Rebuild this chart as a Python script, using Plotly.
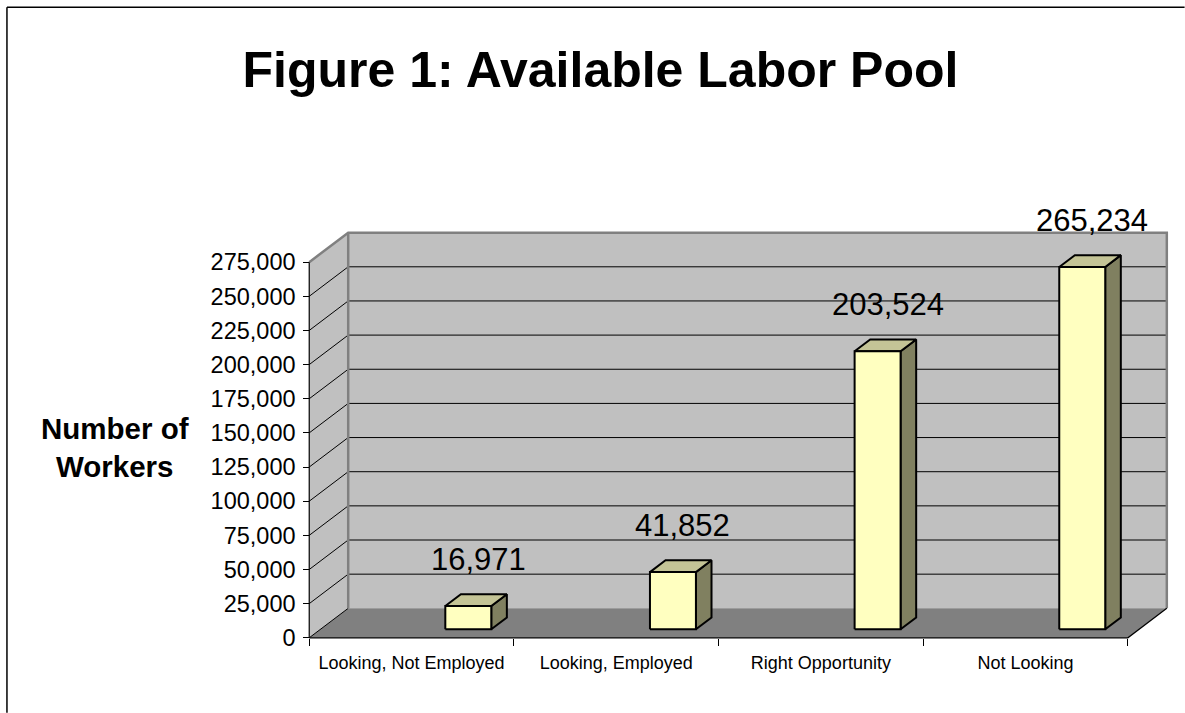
import plotly.graph_objects as go

# ---- data -------------------------------------------------------------
categories = ["Looking, Not Employed", "Looking, Employed", "Right Opportunity", "Not Looking"]
workers = [16971, 41852, 203524, 265234]
value_labels = ["16,971", "41,852", "203,524", "265,234"]
tick_values = list(range(0, 275001, 25000))
tick_labels = [f"{v:,}" for v in tick_values]

# ---- geometry of the pseudo-3D box -------------------------------------
W, H = 1185, 713
PX_X = 204.8                 # pixels per category slot
PX_Y = 375.7 / 275000        # pixels per worker
X0_PX, Y0_PX = 309.0, 638.0  # front-left corner of the floor
YMAX = 275000
DX = 39.0 / PX_X             # wall depth along x (category units)
DY = 29.5 / PX_Y             # wall depth along y (value units)
F1, F2 = 0.29, 0.69          # bar front / back depth fractions
SHIFT = 0.222                # bar offset inside its slot
BW = 0.2246                  # bar width

x_range = [-0.55, 3.75]
y_range = [-6000, 300000]
left = X0_PX - (-0.5 - x_range[0]) * PX_X
plot_w = (x_range[1] - x_range[0]) * PX_X
right = W - left - plot_w
base_px = Y0_PX + (0 - y_range[0]) * PX_Y
bottom = H - base_px
plot_h = (y_range[1] - y_range[0]) * PX_Y
top = base_px - plot_h


def paper_x(px):
    return (px - left) / plot_w


def paper_y(py):
    return (base_px - py) / plot_h


FONT = "Liberation Sans, Arial, sans-serif"
WALL = "#c0c0c0"
WALL_EDGE = "#808080"
FLOOR = "#808080"
FRONT = "#ffffc0"
TOPC = "#c4c496"
SIDE = "#808060"

fig = go.Figure()


def poly(xs, ys, fill=None, line_color=None, width=0, closed=True):
    if closed:
        xs = list(xs) + [xs[0]]
        ys = list(ys) + [ys[0]]
    fig.add_trace(go.Scatter(
        x=xs, y=ys, mode="lines",
        fill="toself" if fill else None,
        fillcolor=fill,
        line=dict(color=line_color or "rgba(0,0,0,0)", width=width),
        hoverinfo="skip", showlegend=False))


xl0, xr0 = -0.5, len(categories) - 0.5

# walls and floor
poly([xl0 + DX, xr0 + DX, xr0 + DX, xl0 + DX], [DY, DY, YMAX + DY, YMAX + DY], fill=WALL)
poly([xl0, xl0 + DX, xl0 + DX, xl0], [0, DY, YMAX + DY, YMAX], fill=WALL)
poly([xl0, xr0, xr0 + DX, xl0 + DX], [0, 0, DY, DY], fill=FLOOR)

# gridlines: back wall horizontals and left wall diagonals
for v in tick_values[1:-1]:
    poly([xl0 + DX, xr0 + DX], [v + DY, v + DY], line_color="#000000", width=1, closed=False)
for v in tick_values[:-1]:
    poly([xl0, xl0 + DX], [v, v + DY], line_color="#000000", width=1, closed=False)

# wall outlines
poly([xl0, xl0 + DX, xr0 + DX, xr0 + DX], [YMAX, YMAX + DY, YMAX + DY, DY],
     line_color=WALL_EDGE, width=2.5, closed=False)
poly([xl0 + DX, xl0 + DX], [DY, YMAX + DY], line_color=WALL_EDGE, width=2.5, closed=False)

# front axis lines and floor right edge
poly([xl0, xl0], [0, YMAX], line_color="#000000", width=1.2, closed=False)
poly([xl0, xr0, xr0 + DX], [0, 0, DY], line_color="#000000", width=1.2, closed=False)

# 3D bars
for i, v in enumerate(workers):
    xl = i + SHIFT - BW / 2
    xr = i + SHIFT + BW / 2
    a1x, a1y = F1 * DX, F1 * DY
    a2x, a2y = F2 * DX, F2 * DY
    poly([xr + a1x, xr + a2x, xr + a2x, xr + a1x], [a1y, a2y, v + a2y, v + a1y],
         fill=SIDE, line_color="#000000", width=2)
    poly([xl + a1x, xr + a1x, xr + a2x, xl + a2x], [v + a1y, v + a1y, v + a2y, v + a2y],
         fill=TOPC, line_color="#000000", width=2)
    poly([xl + a1x, xr + a1x, xr + a1x, xl + a1x], [a1y, a1y, v + a1y, v + a1y],
         fill=FRONT, line_color="#000000", width=2)
    fig.add_annotation(x=i + SHIFT + a1x + 10 / PX_X, y=v + a1y, xref="x", yref="y",
                       text=value_labels[i], showarrow=False, yanchor="middle",
                       yshift=46.5, font=dict(family=FONT, size=31, color="#000000"))

# y-axis title
fig.add_annotation(xref="paper", yref="paper", x=paper_x(115), y=paper_y(448),
                   text="<b>Number of<br>Workers</b>", showarrow=False,
                   xanchor="center", yanchor="middle", align="center",
                   font=dict(family=FONT, size=29.5, color="#000000"))

# outer chart border (top and left edges)
fig.add_shape(type="line", xref="paper", yref="paper",
              x0=paper_x(6.5), y0=paper_y(7.3), x1=paper_x(W), y1=paper_y(7.3),
              line=dict(color="#000000", width=1.5))
fig.add_shape(type="line", xref="paper", yref="paper",
              x0=paper_x(6.5), y0=paper_y(7.3), x1=paper_x(6.5), y1=paper_y(H),
              line=dict(color="#000000", width=1.5))

# category boundary ticks drawn on an overlaid axis
fig.add_trace(go.Scatter(x=[None], y=[None], xaxis="x2", showlegend=False, hoverinfo="skip"))

fig.update_layout(
    width=W, height=H,
    margin=dict(l=left, r=right, t=top, b=bottom, autoexpand=False),
    paper_bgcolor="#ffffff", plot_bgcolor="rgba(0,0,0,0)",
    showlegend=False,
    title=dict(text="<b>Figure 1: Available Labor Pool</b>",
               xref="container", yref="container",
               x=600.5 / W, y=1 - 69 / H, xanchor="center", yanchor="middle",
               font=dict(family=FONT, size=50, color="#000000")),
    xaxis=dict(range=x_range, showgrid=False, zeroline=False, showline=False,
               tickvals=list(range(len(categories))), ticktext=categories,
               ticks="", ticklabelstandoff=12,
               anchor="free", position=paper_y(Y0_PX),
               tickfont=dict(family=FONT, size=18, color="#000000")),
    xaxis2=dict(range=x_range, overlaying="x", showgrid=False, zeroline=False,
                showline=False, showticklabels=False,
                tickvals=[k - 0.5 for k in range(len(categories) + 1)],
                ticks="outside", ticklen=7, tickwidth=1, tickcolor="#000000",
                anchor="free", position=paper_y(Y0_PX), side="bottom"),
    yaxis=dict(range=y_range, showgrid=False, zeroline=False, showline=False,
               tickvals=tick_values, ticktext=tick_labels,
               ticks="outside", ticklen=6, tickwidth=1, tickcolor="#000000",
               ticklabelstandoff=3,
               anchor="free", position=paper_x(X0_PX),
               tickfont=dict(family=FONT, size=23.5, color="#000000")),
)

fig.write_html("out.html")
